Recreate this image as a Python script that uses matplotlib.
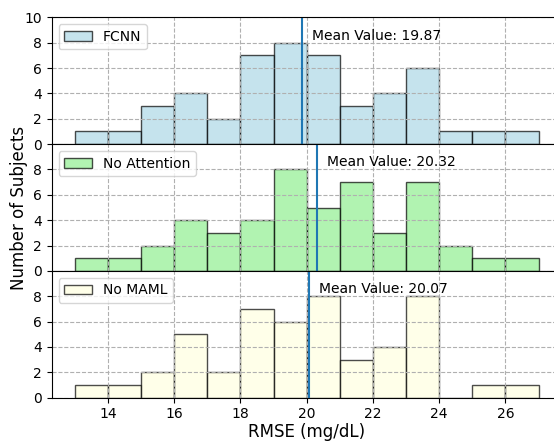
import numpy as np
import matplotlib
matplotlib.use('Agg')
import matplotlib.pyplot as plt

# RMSE histogram, one bin per mg/dL from 13 to 27
bin_edges = list(range(13, 28))

fcnn_counts = [1, 1, 3, 4, 2, 7, 8, 7, 3, 4, 6, 1, 1, 1]
no_attention_counts = [1, 1, 2, 4, 3, 4, 8, 5, 7, 3, 7, 2, 1, 1]
no_maml_counts = [1, 1, 2, 5, 2, 7, 6, 8, 3, 4, 8, 0, 1, 1]

model_names = ['FCNN', 'No Attention', 'No MAML']
mean_values = [19.87, 20.32, 20.07]
bar_colors = ['lightblue', 'lightgreen', 'lightyellow']

x_ticks = [14, 16, 18, 20, 22, 24, 26]


def main():
    fig = plt.figure(figsize=(5.54, 4.41), dpi=100)
    left, width = 0.0933, 0.9206
    height = 0.2875
    bottoms = [0.0982 + 2 * height, 0.0982 + height, 0.0982]

    all_counts = [fcnn_counts, no_attention_counts, no_maml_counts]
    axes = []
    for i, (name, counts, mean, color) in enumerate(zip(model_names, all_counts, mean_values, bar_colors)):
        ax = fig.add_axes([left, bottoms[i], width, height], sharex=axes[0] if axes else None)
        ax.hist(bin_edges[:-1], bins=bin_edges, weights=counts, color=color,
                edgecolor='black', alpha=0.7, label=name)
        ax.axvline(mean, color='#1f77b4', linewidth=1.5)
        ax.text(mean + 0.3, 8.25, 'Mean Value: %.2f' % mean, fontsize=10)
        ax.set_ylim(0, 10)
        ax.set_xlim(12.3, 27.7)
        if i == 0:
            ax.set_yticks([0, 2, 4, 6, 8, 10])
        else:
            ax.set_yticks([0, 2, 4, 6, 8])
        ax.set_xticks(x_ticks)
        ax.grid(linestyle='--')
        ax.legend(loc='upper left', fontsize=10)
        if i < 2:
            plt.setp(ax.get_xticklabels(), visible=False)
        axes.append(ax)

    axes[1].set_ylabel('Number of Subjects', fontsize=12)
    axes[2].set_xlabel('RMSE (mg/dL)', fontsize=12, labelpad=1.5)

    fig.savefig('out.png', dpi=100)


if __name__ == '__main__':
    main()
